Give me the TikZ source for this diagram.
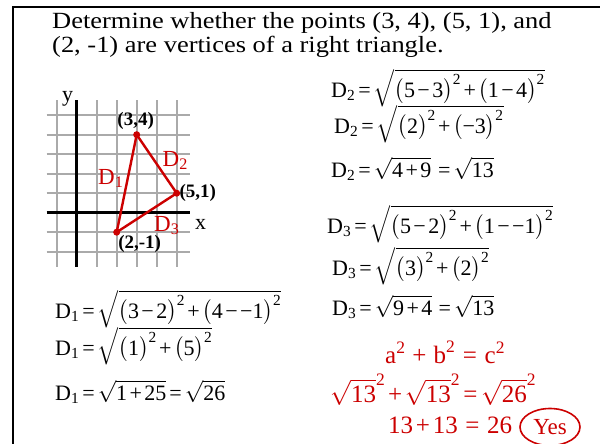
\documentclass[tikz,border=0pt]{standalone}
\usepackage{fix-cm}
\usepackage{amsmath}
\usepackage{fontspec}
\setmainfont{Liberation Serif}
\newfontfamily\titlefont[FakeStretch=1.14]{Liberation Serif}
\usetikzlibrary{shapes.geometric}
\definecolor{tred}{RGB}{204,0,0}
\definecolor{gridgray}{RGB}{170,170,170}
\newcommand{\T}[1]{\text{#1}}
\newcommand{\eqs}{\mathrel{\text{=}}}
\newcommand{\pls}{\mathbin{\text{+}}}
\newcommand{\mns}{\mathbin{\text{−}}}
\newcommand{\sqr}{^{\text{2}}}
\newcommand{\Dn}[1]{\text{D}_{\text{#1}}}
\medmuskip=2mu
\thickmuskip=2.5mu
\tikzset{
  title/.style={anchor=base west,inner sep=0pt,font=\titlefont\fontsize{23.2}{27}\selectfont},
  eq/.style={anchor=base west,inner sep=0pt,font=\fontsize{22}{26}\selectfont},
  req/.style={anchor=base west,inner sep=0pt,text=tred,font=\fontsize{25}{29}\selectfont},
  ptlabel/.style={inner sep=0pt,font=\fontsize{19}{22}\selectfont\bfseries},
  axlabel/.style={inner sep=0pt,font=\fontsize{22}{26}\selectfont},
  dlabel/.style={anchor=base west,inner sep=0pt,text=tred,font=\fontsize{23}{26}\selectfont},
  gridline/.style={gridgray,line width=1.6pt},
  axis/.style={black,line width=3pt},
  side/.style={tred,line width=2.4pt},
  dot/.style={circle,fill=tred,inner sep=0pt,minimum size=7pt}
}
\begin{document}
\begin{tikzpicture}[x=1pt,y=-1pt]
\useasboundingbox (0,0) rectangle (600,444);
\fill[white] (0,0) rectangle (600,444);
% frame
\draw[line width=2pt] (13,445) -- (13,7) -- (601,7);
% title
\node[title] (t1) at (52,29) {Determine whether the points (3, 4), (5, 1), and};
\node[title] (t2) at (52,53) {(2, -1) are vertices of a right triangle.};
% graph
\begin{scope}[shift={(76.7,212.7)},x=20pt,y=19.5pt]
  \foreach \i in {-1,1,2,3,4,5} \draw[gridline] (\i,-2.77) -- (\i,5.78);
  \foreach \j in {-2,-1,1,2,3,4,5} \draw[gridline] (-1.5,\j) -- (5.67,\j);
  \draw[axis] (-1.5,0) -- (5.67,0);
  \draw[axis] (0,-2.77) -- (0,5.78);
  \node[dot] (A) at (3,4) {};
  \node[dot] (B) at (5,1) {};
  \node[dot] (C) at (2,-1) {};
  \draw[side] (A.center) -- (B.center) -- (C.center) -- cycle;
  \node[ptlabel] (la) at (2.95,4.7) {(3,4)};
  \node[ptlabel] (lb) at (6.05,1.0) {(5,1)};
  \node[ptlabel] (lc) at (3.15,-1.6) {(2,-1)};
  \node[axlabel] (ly) at (-0.45,5.85) {y};
  \node[axlabel] (lx) at (6.2,-0.6) {x};
\end{scope}
\node[dlabel] (d1) at (98,184) {D$_{\text{1}}$};
\node[dlabel] (d2) at (162.5,166) {D$_{\text{2}}$};
\node[dlabel] (d3) at (154,231) {D$_{\text{3}}$};
% D2 equations
\node[eq] (e21) at (331,97) {$\Dn2\eqs\sqrt{\bigl(\T5\mns\T3\bigr)\sqr\pls\bigl(\T1\mns\T4\bigr)\sqr}$};
\node[eq] (e22) at (334,133) {$\Dn2\eqs\sqrt{\bigl(\T2\bigr)\sqr\pls\bigl(\T{−3}\bigr)\sqr}$};
\node[eq] (e23) at (331,177) {$\Dn2\eqs\sqrt{\T4\pls\T9}\,\eqs\sqrt{\T{13}}$};
% D3 equations
\node[eq] (e31) at (327,233) {$\Dn3\eqs\sqrt{\bigl(\T5\mns\T2\bigr)\sqr\pls\bigl(\T1\mns\T{−1}\bigr)\sqr}$};
\node[eq] (e32) at (332,275) {$\Dn3\eqs\sqrt{\bigl(\T3\bigr)\sqr\pls\bigl(\T2\bigr)\sqr}$};
\node[eq] (e33) at (332,315) {$\Dn3\eqs\sqrt{\T9\pls\T4}\;\eqs\sqrt{\T{13}}$};
% D1 equations
\node[eq] (e11) at (55,318) {$\Dn1\eqs\sqrt{\bigl(\T3\mns\T2\bigr)\sqr\pls\bigl(\T4\mns\T{−1}\bigr)\sqr}$};
\node[eq] (e12) at (55,355) {$\Dn1\eqs\sqrt{\bigl(\T1\bigr)\sqr\pls\bigl(\T5\bigr)\sqr}$};
\node[eq] (e13) at (55,400) {$\Dn1\eqs\sqrt{\T1\pls\T{25}}\eqs\sqrt{\T{26}}$};
% conclusion
\node[req] (r1) at (385,363) {$\T{a}\sqr\,\pls\,\T{b}\sqr\,\eqs\,\T{c}\sqr$};
\node[req] (r2) at (330,402) {$\sqrt{\T{13}}^{\text{2}}\pls\sqrt{\T{13}}^{\text{2}}\eqs\sqrt{\T{26}}^{\text{2}}$};
\node[req] (r3) at (388,433) {$\T{13}\pls\T{13}\,\eqs\,\T{26}$};
\node[ellipse,draw=tred,line width=1.6pt,text=tred,minimum width=60pt,minimum height=37pt,inner sep=0pt,font=\fontsize{23}{26}\selectfont] (yes) at (550,427) {Yes};
\end{tikzpicture}
\end{document}
